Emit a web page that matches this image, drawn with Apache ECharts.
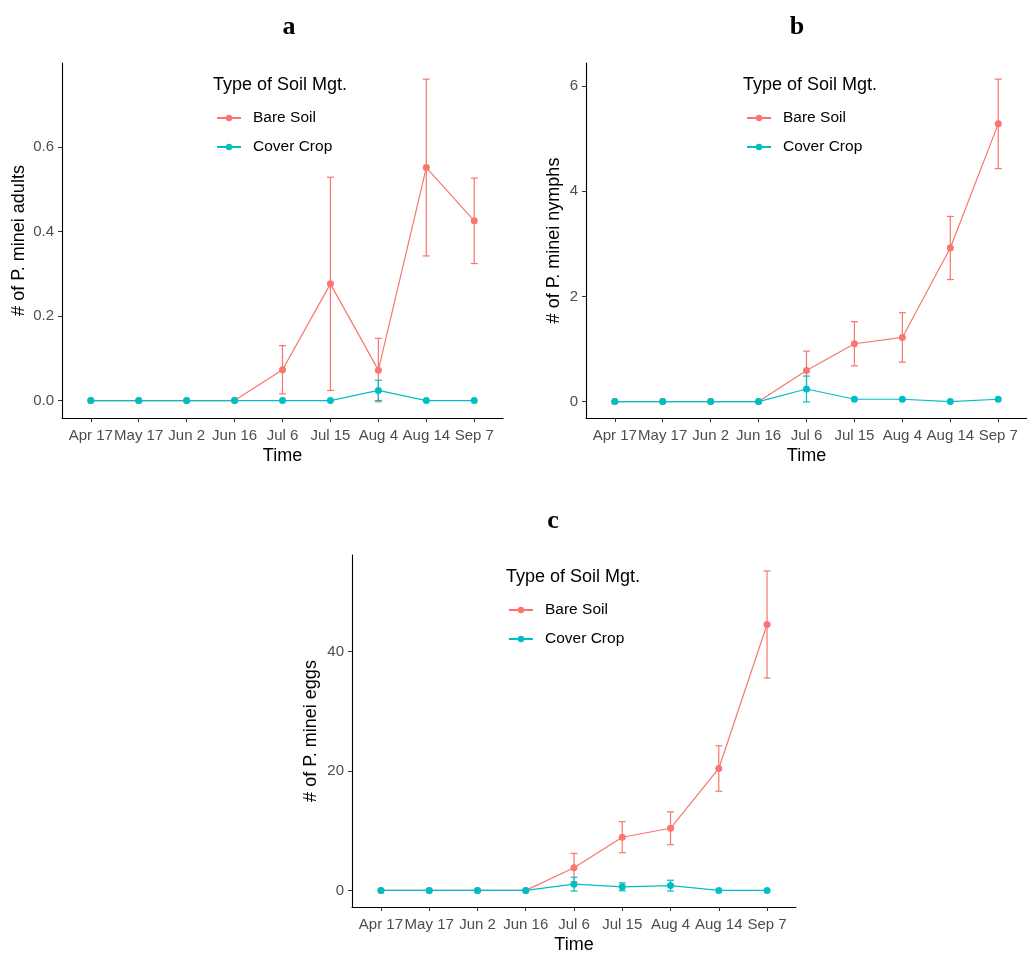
<!DOCTYPE html>
<html>
<head>
<meta charset="utf-8">
<script src="https://cdn.jsdelivr.net/npm/echarts@6/dist/echarts.min.js"></script>
<style>
html,body{margin:0;padding:0;background:#fff;}
#chart{width:1027px;height:955px;}
</style>
</head>
<body>
<div id="chart"></div>
<script>
// ---- data ----
const categories = ['Apr 17','May 17','Jun 2','Jun 16','Jul 6','Jul 15','Aug 4','Aug 14','Sep 7'];
const seriesNames = ['Bare Soil','Cover Crop'];

const adultsBare    = [0,0,0,0,0.073,0.276,0.072,0.551,0.425];
const adultsBareSE  = [0,0,0,0,0.057,0.252,0.075,0.209,0.101];
const adultsCover   = [0,0,0,0,0,0,0.024,0,0];
const adultsCoverSE = [0,0,0,0,0,0,0.024,0,0];

const nymphsBare    = [0,0,0,0,0.59,1.10,1.22,2.92,5.28];
const nymphsBareSE  = [0,0,0,0,0.37,0.42,0.47,0.60,0.85];
const nymphsCover   = [0,0,0,0,0.24,0.045,0.045,0,0.045];
const nymphsCoverSE = [0,0,0,0,0.245,0,0,0,0];

const eggsBare      = [0,0,0,0,3.8,8.9,10.4,20.4,44.5];
const eggsBareSE    = [0,0,0,0,2.4,2.6,2.75,3.8,8.95];
const eggsCover     = [0,0,0,0,1.05,0.6,0.8,0,0];
const eggsCoverSE   = [0,0,0,0,1.15,0.65,0.9,0,0];

const adultsTicks = [0,0.2,0.4,0.6];
const nymphsTicks = [0,2,4,6];
const eggsTicks   = [0,20,40];

const panelLetters = ['a','b','c'];
const yTitles = ['# of P. minei adults','# of P. minei nymphs','# of P. minei eggs'];
const xTitle = 'Time';
const legendTitle = 'Type of Soil Mgt.';

// ---- styling / layout ----
const colors = ['#F8766D','#00BFC4'];
const FONT = '"Liberation Sans", Arial, sans-serif';
const panels = [
  {grid:{left:62, top:63, width:441, height:355}, bare:adultsBare, bareSE:adultsBareSE, cover:adultsCover, coverSE:adultsCoverSE, ticks:adultsTicks, dec:1, nameGap:34,
   letter:[289,27], legTitle:[213,85], legend:{left:216, top:110}},
  {grid:{left:586, top:63, width:454, height:355}, bare:nymphsBare, bareSE:nymphsBareSE, cover:nymphsCover, coverSE:nymphsCoverSE, ticks:nymphsTicks, dec:0, nameGap:23,
   letter:[797,27], legTitle:[743,85], legend:{left:746, top:110}},
  {grid:{left:352, top:555, width:444, height:355}, bare:eggsBare, bareSE:eggsBareSE, cover:eggsCover, coverSE:eggsCoverSE, ticks:eggsTicks, dec:0, nameGap:32,
   letter:[553,521], legTitle:[506,577], legend:{left:508, top:602}}
];

const xIdx = categories.map((_, i) => i);

function yRange(p){
  let lo = 0, hi = 0;
  [[p.bare,p.bareSE],[p.cover,p.coverSE]].forEach(([v,se]) => {
    v.forEach((val,i) => { lo = Math.min(lo, val - se[i]); hi = Math.max(hi, val + se[i]); });
  });
  const pad = 0.05 * (hi - lo);
  return [lo - pad, hi + pad];
}

function errorRender(color){
  return function(params, api){
    const x = api.value(0), lo = api.value(1), hi = api.value(2);
    const a = api.coord([x, lo]), b = api.coord([x, hi]);
    const hw = 3.5;
    const st = {stroke: color, lineWidth: 1.2};
    return {type:'group', children:[
      {type:'line', shape:{x1:a[0], y1:a[1], x2:b[0], y2:b[1]}, style:st},
      {type:'line', shape:{x1:a[0]-hw, y1:a[1], x2:a[0]+hw, y2:a[1]}, style:st},
      {type:'line', shape:{x1:b[0]-hw, y1:b[1], x2:b[0]+hw, y2:b[1]}, style:st}
    ]};
  };
}

const grids = [], xAxes = [], yAxes = [], series = [], legends = [], graphics = [];

panels.forEach((p, k) => {
  grids.push(Object.assign({containLabel:false}, p.grid));
  xAxes.push({
    type:'value', gridIndex:k, min:-0.6, max:8.6,
    name:xTitle, nameLocation:'middle', nameGap:29,
    nameTextStyle:{color:'#000', fontSize:18, fontFamily:FONT},
    splitLine:{show:false},
    axisLine:{show:true, onZero:false, lineStyle:{color:'#000', width:1.1}},
    axisTick:{show:true, length:4, customValues:xIdx, lineStyle:{color:'#333', width:1}},
    axisLabel:{show:true, customValues:xIdx, margin:10, color:'#4d4d4d', fontSize:15, fontFamily:FONT,
      formatter:(v) => categories[Math.round(v)]}
  });
  const [ymin, ymax] = yRange(p);
  yAxes.push({
    type:'value', gridIndex:k, min:ymin, max:ymax,
    name:yTitles[k], nameLocation:'middle', nameGap:p.nameGap, nameRotate:90,
    nameTextStyle:{color:'#000', fontSize:18, fontFamily:FONT},
    splitLine:{show:false},
    axisLine:{show:true, onZero:false, lineStyle:{color:'#000', width:1.1}},
    axisTick:{show:true, length:4, customValues:p.ticks, lineStyle:{color:'#333', width:1}},
    axisLabel:{show:true, customValues:p.ticks, margin:8, color:'#4d4d4d', fontSize:15, fontFamily:FONT,
      formatter:(v) => Number(v).toFixed(p.dec)}
  });
  const groups = [[p.bare, p.bareSE], [p.cover, p.coverSE]];
  groups.forEach(([vals, se], g) => {
    series.push({
      type:'line', name:seriesNames[g], xAxisIndex:k, yAxisIndex:k,
      data: vals.map((v,i) => [i, v]),
      symbol:'circle', symbolSize:7, showSymbol:true,
      itemStyle:{color:colors[g]}, lineStyle:{color:colors[g], width:1.2},
      z: 2 + g*2, animation:false, emphasis:{disabled:true}
    });
    series.push({
      type:'custom', name:seriesNames[g] + ' SE', xAxisIndex:k, yAxisIndex:k,
      data: vals.map((v,i) => [i, v - se[i], v + se[i]]).filter((d,i) => se[i] > 0),
      encode:{x:0, y:[1,2]},
      renderItem: errorRender(colors[g]),
      z: 2 + g*2, animation:false, silent:true
    });
  });
  legends.push({
    data: seriesNames, orient:'vertical', left:p.legend.left, top:p.legend.top, padding:0,
    itemWidth:24, itemHeight:8, itemGap:13, selectedMode:false,
    textStyle:{fontSize:15.5, fontFamily:FONT, color:'#000', lineHeight:16, padding:[0,0,0,7]}
  });
  graphics.push({type:'text', x:p.letter[0], y:p.letter[1],
    style:{text:panelLetters[k], font:'bold 26px "Liberation Serif", "Times New Roman", serif', fill:'#000', align:'center', verticalAlign:'middle'}});
  graphics.push({type:'text', x:p.legTitle[0], y:p.legTitle[1],
    style:{text:legendTitle, font:'18px ' + FONT, fill:'#000', align:'left', verticalAlign:'middle'}});
});

const chart = echarts.init(document.getElementById('chart'), null, {renderer:'canvas'});
chart.setOption({
  animation:false,
  backgroundColor:'#fff',
  grid:grids, xAxis:xAxes, yAxis:yAxes, series:series, legend:legends,
  graphic:graphics
});
</script>
</body>
</html>
